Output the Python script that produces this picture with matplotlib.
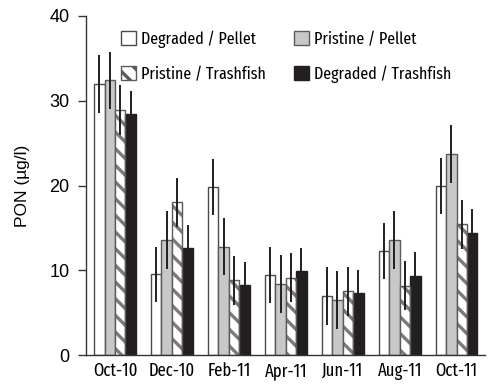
import matplotlib
matplotlib.use("Agg")
import matplotlib.pyplot as plt
from matplotlib.patches import Patch
import numpy as np

months = ["Oct-10", "Dec-10", "Feb-11", "Apr-11", "Jun-11", "Aug-11", "Oct-11"]

degraded_pellet = [32.0, 9.5, 19.8, 9.4, 7.0, 12.3, 19.9]
pristine_pellet = [32.4, 13.6, 12.8, 8.4, 6.5, 13.6, 23.7]
pristine_trashfish = [28.9, 18.0, 8.8, 9.1, 7.5, 8.2, 15.4]
degraded_trashfish = [28.4, 12.6, 8.3, 9.9, 7.3, 9.3, 14.4]

err_degraded_pellet = [3.4, 3.3, 3.3, 3.3, 3.4, 3.3, 3.3]
err_pristine_pellet = [3.4, 3.4, 3.4, 3.4, 3.4, 3.4, 3.4]
err_pristine_trashfish = [2.9, 2.9, 2.9, 2.9, 2.9, 2.9, 2.9]
err_degraded_trashfish = [2.8, 2.7, 2.7, 2.7, 2.7, 2.8, 2.8]

NARROW = ["Fira Sans Extra Condensed", "Sofia Sans Extra Condensed", "DejaVu Sans"]
REGULAR = ["Liberation Sans", "DejaVu Sans"]

plt.rcParams["font.family"] = NARROW
plt.rcParams["hatch.linewidth"] = 2.4

fig = plt.figure(figsize=(4.93, 3.90), dpi=100)
ax = fig.add_axes([0.1744, 0.0897, 0.8094, 0.8693])

x = np.arange(len(months))
w = 0.184
offsets = np.array([-1.5, -0.5, 0.5, 1.5]) * w

series = [
    (degraded_pellet, err_degraded_pellet, dict(facecolor="white", edgecolor="#4a4a4a")),
    (pristine_pellet, err_pristine_pellet, dict(facecolor="#c8c8c8", edgecolor="#5a5a5a")),
    (pristine_trashfish, err_pristine_trashfish, None),
    (degraded_trashfish, err_degraded_trashfish, dict(facecolor="#231f20", edgecolor="#231f20")),
]

for (vals, errs, style), off in zip(series, offsets):
    pos = x + off
    if style is None:
        # striped fill, then an outline on top
        ax.bar(pos, vals, width=w, facecolor="white", edgecolor="#7a7a7a",
               hatch="\\\\", linewidth=0, zorder=2)
        ax.bar(pos, vals, width=w, facecolor="none", edgecolor="#5a5a5a",
               linewidth=1.0, zorder=3)
    else:
        ax.bar(pos, vals, width=w, linewidth=1.0, zorder=2, **style)
    ax.errorbar(pos, vals, yerr=errs, fmt="none", ecolor="#231f20",
                elinewidth=1.4, capsize=0, zorder=4)

ax.set_xlim(-0.51, 6.5)
ax.set_ylim(0, 40)
ax.set_yticks([0, 10, 20, 30, 40])
ax.set_xticks(x)
ax.set_xticklabels(months, family=NARROW, fontsize=13)
ax.set_yticklabels(["0", "10", "20", "30", "40"], family=REGULAR, fontsize=13)
ax.tick_params(axis="x", length=0, pad=5)
ax.tick_params(axis="y", length=6, width=1, direction="out",
               color="#333333", pad=6)
for s in ["top", "right"]:
    ax.spines[s].set_visible(False)
for s in ["left", "bottom"]:
    ax.spines[s].set_color("#333333")
    ax.spines[s].set_linewidth(1.0)

ax.set_ylabel("PON (µg/l)", family=REGULAR, fontsize=12.5, labelpad=14)

handles = [
    Patch(facecolor="white", edgecolor="#4a4a4a", label="Degraded / Pellet"),
    Patch(facecolor="white", edgecolor="#5a5a5a", hatch="\\\\",
          label="Pristine / Trashfish"),
    Patch(facecolor="#c8c8c8", edgecolor="#5a5a5a", label="Pristine / Pellet"),
    Patch(facecolor="#231f20", edgecolor="#231f20", label="Degraded / Trashfish"),
]
leg = ax.legend(handles=handles, ncol=2, frameon=False, loc="upper left",
                bbox_to_anchor=(0.087, 0.957), prop=dict(family=NARROW, size=12.5),
                handlelength=0.87, handleheight=0.87, handletextpad=0.3,
                columnspacing=1.6, labelspacing=1.05, borderaxespad=0,
                borderpad=0)

fig.savefig("out.png", dpi=100)
